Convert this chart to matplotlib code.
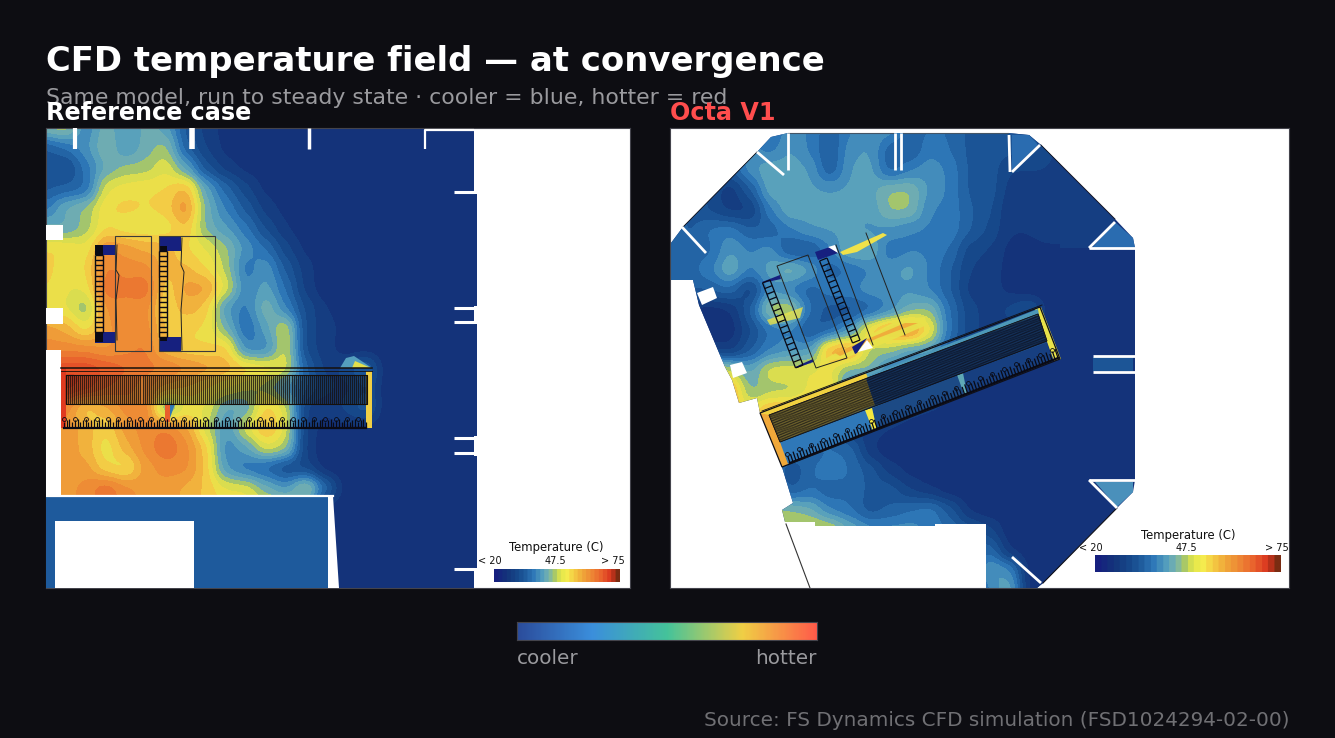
import numpy as np
import matplotlib
matplotlib.use("Agg")
import matplotlib.pyplot as plt
from matplotlib.colors import LinearSegmentedColormap
from matplotlib.collections import LineCollection
from matplotlib.patches import Polygon, Rectangle

W, H = 1335, 738
BG = "#0d0d12"

# temperature samples (C), 20 px apart,
# x from 46 to 386, y from 128 to 508. The rest of that room is flat.
ref_x0, ref_y0, ref_step = 46, 128, 20
ref_temp = [
    [46, 48, 38, 45, 40, 44, 42, 33, 28, 26, 25, 25, 25, 25, 25, 25, 25, 25],
    [33, 36, 40, 46, 40, 44, 47, 34, 29, 26, 25, 25, 25, 25, 25, 25, 25, 25],
    [32, 30, 37, 43, 46, 46, 50, 42, 32, 28, 26, 25, 25, 25, 25, 25, 25, 25],
    [33, 34, 35, 50, 51, 52, 52, 56, 42, 35, 30, 26, 25, 25, 25, 25, 25, 25],
    [37, 44, 46, 52, 53, 52, 53, 60, 44, 38, 33, 28, 26, 25, 25, 25, 25, 25],
    [44, 42, 46, 52, 50, 50, 50, 55, 44, 41, 37, 31, 27, 25, 25, 25, 25, 25],
    [52, 53, 50, 60, 58, 56, 56, 52, 50, 46, 40, 36, 30, 26, 25, 25, 25, 25],
    [54, 49, 52, 62, 60, 60, 55, 55, 52, 47, 36, 41, 33, 28, 25, 25, 25, 25],
    [52, 50, 50, 64, 62, 64, 52, 58, 58, 50, 38, 42, 36, 28, 25, 25, 25, 25],
    [50, 50, 44, 60, 60, 60, 52, 56, 54, 40, 37, 46, 38, 31, 27, 25, 25, 25],
    [58, 56, 50, 58, 62, 60, 54, 52, 52, 44, 35, 42, 50, 30, 28, 26, 25, 25],
    [60, 60, 60, 58, 60, 62, 54, 52, 52, 54, 38, 38, 50, 30, 28, 25, 25, 25],
    [66, 68, 68, 66, 64, 62, 62, 60, 58, 56, 54, 52, 50, 34, 28, 30, 36, 25],
    [66, 70, 68, 64, 62, 60, 56, 54, 52, 50, 48, 46, 40, 34, 30, 28, 32, 25],
    [66, 60, 52, 56, 60, 62, 40, 50, 50, 42, 42, 54, 50, 28, 27, 30, 34, 25],
    [60, 58, 56, 52, 58, 60, 62, 58, 48, 40, 50, 56, 50, 28, 26, 26, 26, 25],
    [58, 58, 56, 50, 56, 60, 64, 60, 54, 38, 42, 50, 48, 28, 25, 25, 25, 25],
    [58, 56, 58, 52, 50, 58, 60, 60, 54, 40, 36, 34, 30, 30, 25, 25, 25, 25],
    [60, 58, 60, 64, 60, 58, 58, 56, 54, 50, 50, 44, 40, 50, 36, 25, 25, 25],
    [60, 58, 60, 62, 60, 58, 58, 56, 54, 52, 52, 50, 50, 40, 25, 25, 25, 25],
]

# same for Octa V1, x from 670 to 1050, y from 130 to 590
octa_x0, octa_y0, octa_step = 670, 130, 20
octa_temp = [
    [36, 36, 36, 36, 36, 35, 40, 38, 34, 38, 41, 40, 35, 36, 36, 33, 33, 33, 33, 29],
    [36, 36, 36, 36, 40, 37, 41, 38, 33, 40, 41, 34, 33, 38, 36, 33, 33, 32, 33, 29],
    [36, 36, 36, 33, 40, 43, 42, 41, 33, 41, 42, 34, 38, 40, 38, 33, 33, 29, 29, 29],
    [36, 36, 31, 27, 33, 43, 42, 41, 41, 41, 42, 46, 46, 40, 38, 33, 33, 28, 28, 29],
    [36, 33, 31, 28, 28, 38, 43, 41, 41, 41, 41, 46, 46, 38, 38, 34, 32, 27, 28, 29],
    [36, 33, 37, 38, 34, 34, 38, 41, 41, 41, 40, 40, 38, 38, 38, 34, 31, 27, 27, 29],
    [35, 35, 35, 41, 38, 40, 32, 32, 38, 44, 44, 36, 38, 38, 36, 30, 29, 26, 26, 26],
    [36, 35, 38, 44, 38, 42, 46, 42, 34, 36, 38, 40, 42, 38, 34, 29, 28, 26, 25, 25],
    [36, 34, 34, 36, 28, 40, 37, 34, 38, 38, 40, 40, 40, 38, 34, 28, 28, 26, 25, 25],
    [26, 26, 25, 26, 34, 48, 50, 36, 32, 32, 34, 38, 44, 46, 36, 30, 28, 30, 34, 25],
    [26, 26, 26, 25, 31, 36, 38, 32, 34, 40, 54, 60, 62, 52, 36, 30, 28, 28, 27, 25],
    [26, 26, 27, 27, 33, 38, 40, 40, 58, 60, 46, 46, 42, 42, 34, 30, 28, 28, 27, 26],
    [55, 55, 55, 48, 42, 50, 50, 50, 50, 44, 46, 38, 34, 32, 30, 28, 26, 26, 26, 25],
    [58, 58, 58, 58, 44, 46, 46, 50, 54, 36, 32, 30, 30, 30, 28, 27, 25, 25, 25, 25],
    [55, 55, 55, 55, 50, 56, 56, 56, 50, 46, 44, 33, 28, 27, 26, 25, 25, 25, 25, 25],
    [56, 56, 56, 56, 56, 56, 54, 52, 36, 28, 28, 26, 25, 25, 25, 25, 25, 25, 25, 25],
    [50, 50, 50, 50, 50, 44, 38, 34, 36, 36, 27, 25, 25, 25, 25, 25, 25, 25, 25, 25],
    [40, 40, 40, 40, 40, 40, 30, 36, 38, 36, 33, 28, 26, 25, 25, 25, 25, 25, 25, 25],
    [40, 40, 40, 40, 40, 40, 33, 36, 34, 36, 33, 33, 29, 27, 25, 25, 25, 25, 25, 25],
    [46, 46, 46, 46, 46, 46, 46, 44, 38, 36, 32, 34, 36, 38, 33, 26, 25, 25, 25, 25],
    [48, 48, 48, 48, 48, 48, 48, 50, 50, 44, 40, 40, 40, 38, 36, 33, 30, 25, 25, 25],
    [33, 33, 33, 33, 33, 33, 33, 33, 33, 33, 33, 33, 33, 33, 33, 33, 36, 26, 25, 25],
    [33, 33, 33, 33, 33, 33, 33, 33, 33, 33, 33, 33, 33, 33, 33, 33, 42, 40, 25, 25],
    [33, 33, 33, 33, 33, 33, 33, 33, 33, 33, 33, 33, 33, 33, 33, 33, 38, 44, 25, 25],
]

octa_domain = [(788, 133), (1008, 133), (1029, 135), (1041, 145), (1115, 219), (1133, 238),
               (1135, 248), (1135, 480), (1133, 492), (1117, 508), (1043, 583), (1037, 588),
               (986, 588), (986, 524), (935, 524), (935, 526), (815, 526), (815, 522), (785, 522),
               (782, 510), (793, 503), (782, 467), (760, 413), (757, 398), (739, 403),
               (732, 380), (725, 367), (699, 305), (693, 280), (671, 280), (671, 243),
               (683, 227), (757, 152), (771, 137)]

# legend stops of the CFD colour scale
scale_temps = [20, 25, 30, 33, 37, 41, 44, 46.5, 49, 52, 55, 59, 63, 68, 72, 75]
scale_cols = ["#16207f", "#14347a", "#174a8c", "#1e5a9c", "#2f78b8", "#559fbe", "#79b5ad", "#a8c868",
              "#e0e54a", "#f5ee4f", "#f5cf44", "#f0a83a", "#ee8a35", "#e9602d", "#d9351f", "#7a2c12"]
# the picture of the field is duller and more orange than its own legend
field_temps = [20, 25, 30, 33, 37, 41, 44, 46.5, 49, 51, 54, 57, 61, 66, 72, 75]
field_cols = ["#16207f", "#14347a", "#174a8c", "#1e5a9c", "#2f78b8", "#559fbe", "#6fadb2", "#a8c868",
              "#e2e04c", "#ebe04a", "#f5c844", "#f0a53a", "#ee8a35", "#e9602d", "#d9351f", "#7a2c12"]
bar_cols = ["#2b4c9b", "#3b8fdc", "#45c39a", "#f0cf45", "#ff5a4a"]

cfd = LinearSegmentedColormap.from_list(
    "cfd", [((t - 20) / 55, c) for t, c in zip(scale_temps, scale_cols)]).resampled(30)
field_map = LinearSegmentedColormap.from_list(
    "field", [((t - 20) / 55, c) for t, c in zip(field_temps, field_cols)]).resampled(24)
NAVY = field_map(5 / 55)

fig = plt.figure(figsize=(W / 100, H / 100), dpi=100, facecolor=BG)


def px_axes(x0, y0, x1, y1):
    ax = fig.add_axes([x0 / W, 1 - y1 / H, (x1 - x0) / W, (y1 - y0) / H])
    ax.set_xticks([])
    ax.set_yticks([])
    for s in ax.spines.values():
        s.set_color("#44444c")
        s.set_linewidth(0.8)
    return ax


def px_text(x, y, s, **kw):
    fig.text(x / W, 1 - y / H, s, **kw)


def draw_field(ax, temp, x0, y0, step):
    temp = np.array(temp, dtype=float)
    ny, nx = temp.shape
    return ax.imshow(temp, cmap=field_map, vmin=20, vmax=75, aspect="auto", zorder=1,
                     interpolation="gaussian", interpolation_stage="data",
                     extent=[x0 - step / 2, x0 + (nx - .5) * step, y0 + (ny - .5) * step, y0 - step / 2])


def white_lines(ax, segs, lw=2.0):
    ax.add_collection(LineCollection(segs, colors="white", linewidths=lw, zorder=6))


def ladder(ax, p0, p1, width, n, lw=0.7):
    # two rails with rungs between them, p0->p1 is the long side
    p0, p1 = np.array(p0, float), np.array(p1, float)
    d = (p1 - p0) / np.linalg.norm(p1 - p0)
    nrm = np.array([-d[1], d[0]]) * width
    segs = [[p0, p1], [p0 + nrm, p1 + nrm]]
    for t in np.linspace(0, 1, n):
        a = p0 + (p1 - p0) * t
        segs.append([a, a + nrm])
    ax.add_collection(LineCollection(segs, colors="#0a0a14", linewidths=lw, zorder=5))


def coils(ax, p0, p1, n, up, lw=0.9):
    # row of hairpins standing on a rail, every fourth one ends in a small loop
    p0, p1 = np.array(p0, float), np.array(p1, float)
    up = np.array(up, float)
    segs, tops = [], []
    for i, t in enumerate(np.linspace(0, 1, n)):
        a = p0 + (p1 - p0) * t
        segs.append([a, a + up * (0.7 + 0.15 * (i % 3))])
        if i % 4 == 0:
            tops.append(a + up)
    ax.add_collection(LineCollection(segs, colors="#0a0a14", linewidths=lw, zorder=5))
    tops = np.array(tops)
    ax.plot(tops[:, 0], tops[:, 1], ls="none", marker="o", ms=2.8, mfc="none", mec="#0a0a14", mew=0.6, zorder=5)
    ax.plot([p0[0], p1[0]], [p0[1], p1[1]], color="#0a0a14", lw=1.6, zorder=5)


def legend_inset(ax, x0, y0, x1, y1, cx, title_y, label_y, xl, xm, xr):
    grad = np.linspace(20, 75, 256)[None, :]
    ax.imshow(grad, cmap=cfd, vmin=20, vmax=75, aspect="auto", extent=[x0, x1, y1, y0], zorder=8)
    ax.text(cx, title_y, "Temperature (C)", fontsize=8.4, ha="center", va="center", color="#111", zorder=8)
    for x, s in zip([xl, xm, xr], ["< 20", "47.5", "> 75"]):
        ax.text(x, label_y, s, fontsize=7.0, ha="center", va="center", color="#111", zorder=8)


# ---- left panel
ax1 = px_axes(46, 128, 630, 588)
ax1.set_facecolor("white")
ax1.add_patch(Rectangle((46, 128), 428, 460, fc=NAVY, ec="none", zorder=0))
draw_field(ax1, ref_temp, ref_x0, ref_y0, ref_step)

# walls and the lower room
ax1.add_patch(Rectangle((46, 350), 15, 147, fc="white", ec="none", zorder=3))
ax1.add_patch(Rectangle((46, 225), 17, 15, fc="white", ec="none", zorder=3))
ax1.add_patch(Rectangle((46, 308), 17, 16, fc="white", ec="none", zorder=3))
ax1.add_patch(Rectangle((46, 497), 283, 91, fc="#1e5a9c", ec="none", zorder=3))
ax1.add_patch(Rectangle((55, 521), 139, 67, fc="white", ec="none", zorder=4))
ax1.add_patch(Polygon([(328, 496), (333, 496), (339, 588), (328, 588)], fc="white", ec="none", zorder=4))
ax1.plot([46, 333], [496, 496], color="white", lw=1.6, zorder=4)
for y0, h in [(194, 112), (324, 112), (456, 112)]:
    ax1.add_patch(Rectangle((474, y0), 2.5, h, fc=NAVY, ec="none", zorder=3))

white_lines(ax1, [[(75, 128), (75, 149)]], 3)
white_lines(ax1, [[(192, 128), (192, 149)]], 4)
white_lines(ax1, [[(309, 128), (309, 149)]], 2.5)
white_lines(ax1, [[(425, 149), (425, 130), (474, 130)]], 1.6)
white_lines(ax1, [[(454, y), (474, y)] for y in [192, 308, 322, 438, 453, 569]], 2.2)

# plume at the far end of the rack
ax1.add_patch(Polygon([(340, 368), (346, 358), (354, 356), (372, 368)], fc="#559fbe", ec="none", zorder=2))
ax1.add_patch(Polygon([(352, 368), (355, 361), (371, 368)], fc="#e2e04c", ec="none", zorder=2))

# condenser units
for r in [(95, 245, 21, 10), (95, 332, 21, 11), (159, 236, 22, 15), (159, 337, 22, 14)]:
    ax1.add_patch(Rectangle(r[:2], r[2], r[3], fc="#16207f", ec="none", zorder=4))
for r in [(95, 245, 8, 10), (95, 332, 8, 10), (159, 246, 8, 5), (159, 337, 8, 4)]:
    ax1.add_patch(Rectangle(r[:2], r[2], r[3], fc="#0a0a14", ec="none", zorder=5))
for r in [(115, 236, 36, 115), (159, 236, 56, 115)]:
    ax1.add_patch(Rectangle(r[:2], r[2], r[3], fc="none", ec="#3a3a3a", lw=0.8, zorder=5))
ladder(ax1, (103, 255), (103, 332), 8, 16, 1.0)
ladder(ax1, (167, 251), (167, 337), 8, 18, 1.0)
ax1.plot([117, 116, 119, 116, 117], [245, 270, 275, 300, 340], color="#222", lw=0.7, zorder=5)
ax1.plot([182, 181, 184, 181, 182], [238, 265, 272, 310, 350], color="#222", lw=0.7, zorder=5)

# long rack
ax1.add_patch(Rectangle((61, 368), 5, 60, fc="#e03a20", ec="none", zorder=4))
ax1.add_patch(Rectangle((366, 371), 6, 57, fc="#f0cf45", ec="none", zorder=4))
ax1.add_patch(Rectangle((165, 404), 5, 18, fc="#e9602d", ec="none", zorder=4))
ax1.add_patch(Polygon([(170, 404), (175, 404), (170, 418)], fc="#2f78b8", ec="none", zorder=4))
fin_x = np.linspace(66, 366, 150)
ax1.add_collection(LineCollection([[(x, 375), (x, 404)] for x in fin_x], colors="#15100c",
                                  linewidths=1.0, alpha=0.82, zorder=5))
coils(ax1, (64, 428), (366, 428), 112, (0, -9))
ax1.plot([61, 372], [368, 368], color="#15100c", lw=1.1, zorder=5)
ax1.plot([61, 372], [370.5, 370.5], color="#15100c", lw=0.6, zorder=5)
ax1.plot([66, 367, 367, 66, 66], [375, 375, 404, 404, 375], color="#15100c", lw=0.8, zorder=5)

legend_inset(ax1, 494, 569, 620, 582, 556, 548, 561, 490, 555, 613)
ax1.set_xlim(46, 630)
ax1.set_ylim(588, 128)

# ---- right panel
ax2 = px_axes(670, 128, 1289, 588)
ax2.set_facecolor("white")
room = Polygon(octa_domain, fc=NAVY, ec="none", zorder=0)
ax2.add_patch(room)
f2 = draw_field(ax2, octa_temp, octa_x0, octa_y0, octa_step)
f2.set_clip_path(Polygon(octa_domain, transform=ax2.transData))

# north-east side beyond the sampled part, flat corner rooms
ax2.add_patch(Polygon([(1060, 165), (1115, 220), (1092, 248), (1060, 248)], fc=field_map(9 / 55), ec="none", zorder=1))
corner_rooms = [([(1092, 248), (1135, 248), (1133, 238), (1115, 222)], "#2a6cb0"),
                ([(1093, 357), (1133, 357), (1133, 371), (1093, 371)], "#1c5596"),
                ([(1095, 482), (1133, 482), (1133, 492), (1117, 507)], "#4a90bb"),
                ([(1012, 135), (1029, 135), (1038, 145), (1012, 170)], "#2a6cb0")]
for pts, c in corner_rooms:
    ax2.add_patch(Polygon(pts, fc=c, ec="none", zorder=2))

# hot streaks that run along the units
ax2.add_patch(Polygon([(817, 363), (900, 319), (925, 317), (927, 325), (880, 345), (845, 358)],
                      fc="#e8e24a", ec="none", alpha=0.9, zorder=2))
ax2.add_patch(Polygon([(835, 353), (905, 323), (918, 323), (878, 338), (840, 356)],
                      fc="#f0a83a", ec="none", alpha=0.9, zorder=2))
ax2.add_patch(Polygon([(840, 252), (883, 233), (887, 235), (857, 252), (843, 255)], fc="#f0e24a", ec="none", zorder=2))
ax2.add_patch(Polygon([(767, 320), (803, 307), (800, 318), (770, 325)], fc="#e8e24a", ec="none", alpha=0.8, zorder=2))

# rack, filled ends and dividers
ax2.add_patch(Polygon([(760, 413), (769, 415), (790, 464), (782, 467)], fc="#f0a83a", ec="none", zorder=3))
ax2.add_patch(Polygon([(1035, 309), (1041, 307), (1061, 359), (1054, 361)], fc="#e8e24a", ec="none", zorder=3))
ax2.add_patch(Polygon([(760, 413), (866, 373), (868, 378), (769, 415)], fc="#f0d040", ec="none", zorder=3))
ax2.add_patch(Polygon([(870, 375), (1038, 309), (1039, 315), (868, 378)], fc="#4d98b8", ec="none", zorder=3))
ax2.add_patch(Polygon([(769, 415), (866, 378), (875, 405), (780, 442)], fc="#a8963a", ec="none", zorder=3))
ax2.add_patch(Polygon([(866, 378), (1039, 315), (1047, 343), (875, 405)], fc="#1c4a85", ec="none", zorder=3))
ax2.add_patch(Polygon([(780, 442), (865, 410), (873, 431), (788, 464)], fc="#2f78b8", ec="none", zorder=3))
ax2.add_patch(Polygon([(872, 408), (957, 375), (964, 394), (877, 430)], fc="#1c4a85", ec="none", zorder=3))
ax2.add_patch(Polygon([(963, 373), (1047, 343), (1052, 360), (967, 393)], fc="#173f80", ec="none", zorder=3))
ax2.add_patch(Polygon([(865, 410), (872, 408), (877, 430), (873, 431)], fc="#f5e83e", ec="none", zorder=4))
ax2.add_patch(Polygon([(957, 375), (963, 373), (967, 393), (964, 394)], fc="#5fa8b5", ec="none", zorder=4))

# fins between the two long rails, crossed by thin strips
top0, top1 = np.array([769., 415.]), np.array([1038., 314.])
bot0, bot1 = np.array([780., 442.]), np.array([1047., 341.])
fin_t = np.linspace(0, 1, 260)
ax2.add_collection(LineCollection([[top0 + (top1 - top0) * t, bot0 + (bot1 - bot0) * t] for t in fin_t],
                                  colors="#0a0a14", linewidths=0.5, alpha=0.8, zorder=5))
strip_t = np.linspace(0, 1, 14)
ax2.add_collection(LineCollection([[top0 + (bot0 - top0) * t, top1 + (bot1 - top1) * t] for t in strip_t],
                                  colors="#0a0a14", linewidths=0.4, alpha=0.7, zorder=5))
coils(ax2, (790, 463), (1058, 358), 90, (-3, -9))
ax2.add_patch(Polygon([(760, 413), (1040, 307), (1060, 359), (782, 467)], fc="none", ec="#101018", lw=0.9, zorder=5))
ax2.add_patch(Polygon([(769, 415), (1038, 314), (1047, 341), (780, 442)], fc="none", ec="#101018", lw=0.6, zorder=5))
ax2.plot([762, 1042], [411, 305], color="#101018", lw=0.6, zorder=5)

# units
unit_blocks = [[(815, 252), (830, 247), (838, 253), (818, 260)],
               [(852, 347), (867, 338), (857, 353), (855, 354)],
               [(762, 282), (780, 275), (781, 279), (763, 283)],
               [(795, 367), (813, 359), (813, 362), (797, 368)]]
for pts in unit_blocks:
    ax2.add_patch(Polygon(pts, fc="#16207f", ec="none", zorder=4))
ax2.add_patch(Polygon([(858, 352), (867, 340), (873, 348)], fc="white", ec="none", zorder=4))
ax2.add_patch(Polygon([(828, 247), (835, 245), (838, 253)], fc="white", ec="none", zorder=4))
ladder(ax2, (770, 280), (803, 365), 8, 16, 0.9)
ladder(ax2, (827, 258), (860, 340), 8, 16, 0.9)
ax2.add_patch(Polygon([(777, 266), (808, 255), (847, 358), (816, 368)], fc="none", ec="#222", lw=0.7, zorder=5))
ax2.plot([866, 905], [233, 335], color="#222", lw=0.7, zorder=5)
ax2.plot([836, 873], [245, 345], color="#222", lw=0.7, zorder=5)

# openings, partitions
ax2.add_patch(Polygon([(697, 293), (713, 287), (717, 298), (702, 305)], fc="white", ec="none", zorder=4))
ax2.add_patch(Polygon([(730, 365), (742, 362), (747, 373), (733, 378)], fc="white", ec="none", zorder=4))
octa_walls = [[(682, 227), (706, 253)], [(757, 152), (784, 175)], [(788, 133), (788, 170)],
              [(895, 133), (895, 170)], [(901, 133), (901, 170)], [(1009, 135), (1010, 172)],
              [(1040, 145), (1012, 172)], [(1115, 222), (1089, 248)], [(1089, 248), (1135, 248)],
              [(1093, 356), (1135, 356)], [(1093, 372), (1135, 372)], [(1089, 480), (1135, 480)],
              [(1089, 480), (1117, 508)], [(1012, 557), (1041, 583)]]
white_lines(ax2, octa_walls, 2.0)
ax2.plot([786, 810], [524, 588], color="#333", lw=0.8, zorder=5)
ax2.plot([788, 893], [133, 133], color="#445566", lw=0.8, zorder=5)
ax2.plot([903, 1008], [133, 133], color="#445566", lw=0.8, zorder=5)
ax2.plot([1041, 1115], [145, 219], color="#101018", lw=0.6, zorder=5)
ax2.plot([1117, 1043], [508, 583], color="#101018", lw=0.8, zorder=5)
ax2.plot([683, 757], [227, 152], color="#101018", lw=0.6, zorder=5)

legend_inset(ax2, 1095, 555, 1281, 572, 1188, 535, 548, 1091, 1186, 1277)
ax2.set_xlim(670, 1289)
ax2.set_ylim(588, 128)

# ---- shared gradient bar
ax3 = px_axes(517, 622, 817, 640)
ax3.imshow(np.linspace(0, 1, 300)[None, :], aspect="auto",
           cmap=LinearSegmentedColormap.from_list("bar", bar_cols))

px_text(46, 61, "CFD temperature field — at convergence", fontsize=24.4, fontweight="bold",
        color="white", va="center")
px_text(46, 98, "Same model, run to steady state · cooler = blue, hotter = red", fontsize=15.8,
        color="#9a9a9e", va="center")
px_text(46, 113, "Reference case", fontsize=17.2, fontweight="bold", color="white", va="center")
px_text(670, 113, "Octa V1", fontsize=17.2, fontweight="bold", color="#ff4d4d", va="center")
px_text(517, 658, "cooler", fontsize=14.4, color="#9a9a9e", va="center")
px_text(817, 658, "hotter", fontsize=14.4, color="#9a9a9e", va="center", ha="right")
px_text(1289, 720, "Source: FS Dynamics CFD simulation (FSD1024294-02-00)", fontsize=14.4,
        color="#707074", va="center", ha="right")

fig.savefig("out.png", dpi=100, facecolor=BG)
